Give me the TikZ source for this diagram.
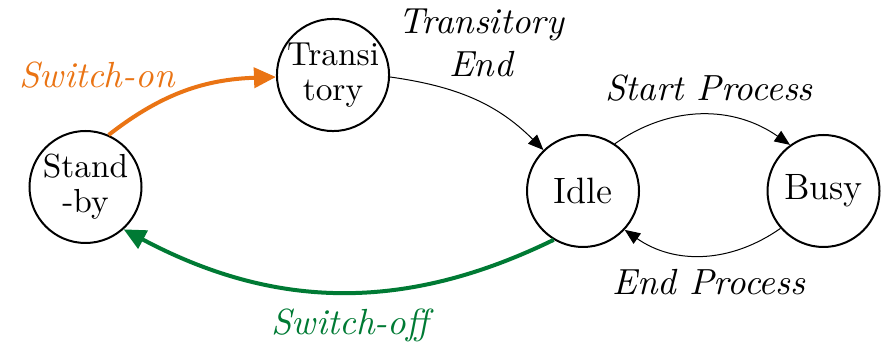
\documentclass[tikz,border=0pt]{standalone}
\usetikzlibrary{arrows.meta}
\definecolor{onorange}{RGB}{234,116,20}
\definecolor{offgreen}{RGB}{0,122,52}
\begin{document}
\begin{tikzpicture}[x=0.3pt,y=-0.3pt,
  state/.style={draw,circle,line width=0.6pt,minimum size=33.6pt,inner sep=0pt,
    align=center,font=\fontsize{11}{12}\selectfont},
  small state/.style={state,font=\fontsize{10}{10.6}\selectfont},
  lbl/.style={font=\fontsize{10.9}{13}\selectfont\itshape,align=center,inner sep=0pt},
  thin arrow/.style={line width=0.3pt,-{Triangle[length=4.6pt,width=3.8pt]}},
  thick arrow/.style={line width=1.2pt,-{Triangle[length=6.6pt,width=6pt]}}]
  \useasboundingbox (0,0) rectangle (883,346);
  % states
  \node[small state] (sb) at (85.5,187) {Stand\\-by};
  \node[small state] (tr) at (333,75) {Transi\\tory};
  \node[state] (idle) at (583,191) {Idle};
  \node[state] (busy) at (823.5,191) {Busy};
  % transitions
  \draw[thick arrow,onorange] (sb.66) to[out=38,in=182] (tr.182);
  \draw[thin arrow] (tr.-2) to[out=-8,in=135] (idle.134);
  \draw[thin arrow] (idle.56) to[out=35,in=145] (busy.126);
  \draw[thin arrow] (busy.-139) to[out=215,in=-35] (idle.-43);
  \draw[thick arrow,offgreen] (idle.-121) to[out=206,in=-28] (sb.-48);
  % labels
  \node[lbl,text=onorange] (lon) at (97,75) {Switch-on};
  \node[lbl] (ltr) at (481,43) {Transitory\\End};
  \node[lbl] (lsp) at (709,88) {Start Process};
  \node[lbl] (lep) at (709,282) {End Process};
  \node[lbl,text=offgreen] (loff) at (350,325) {Switch-off};
\end{tikzpicture}
\end{document}
